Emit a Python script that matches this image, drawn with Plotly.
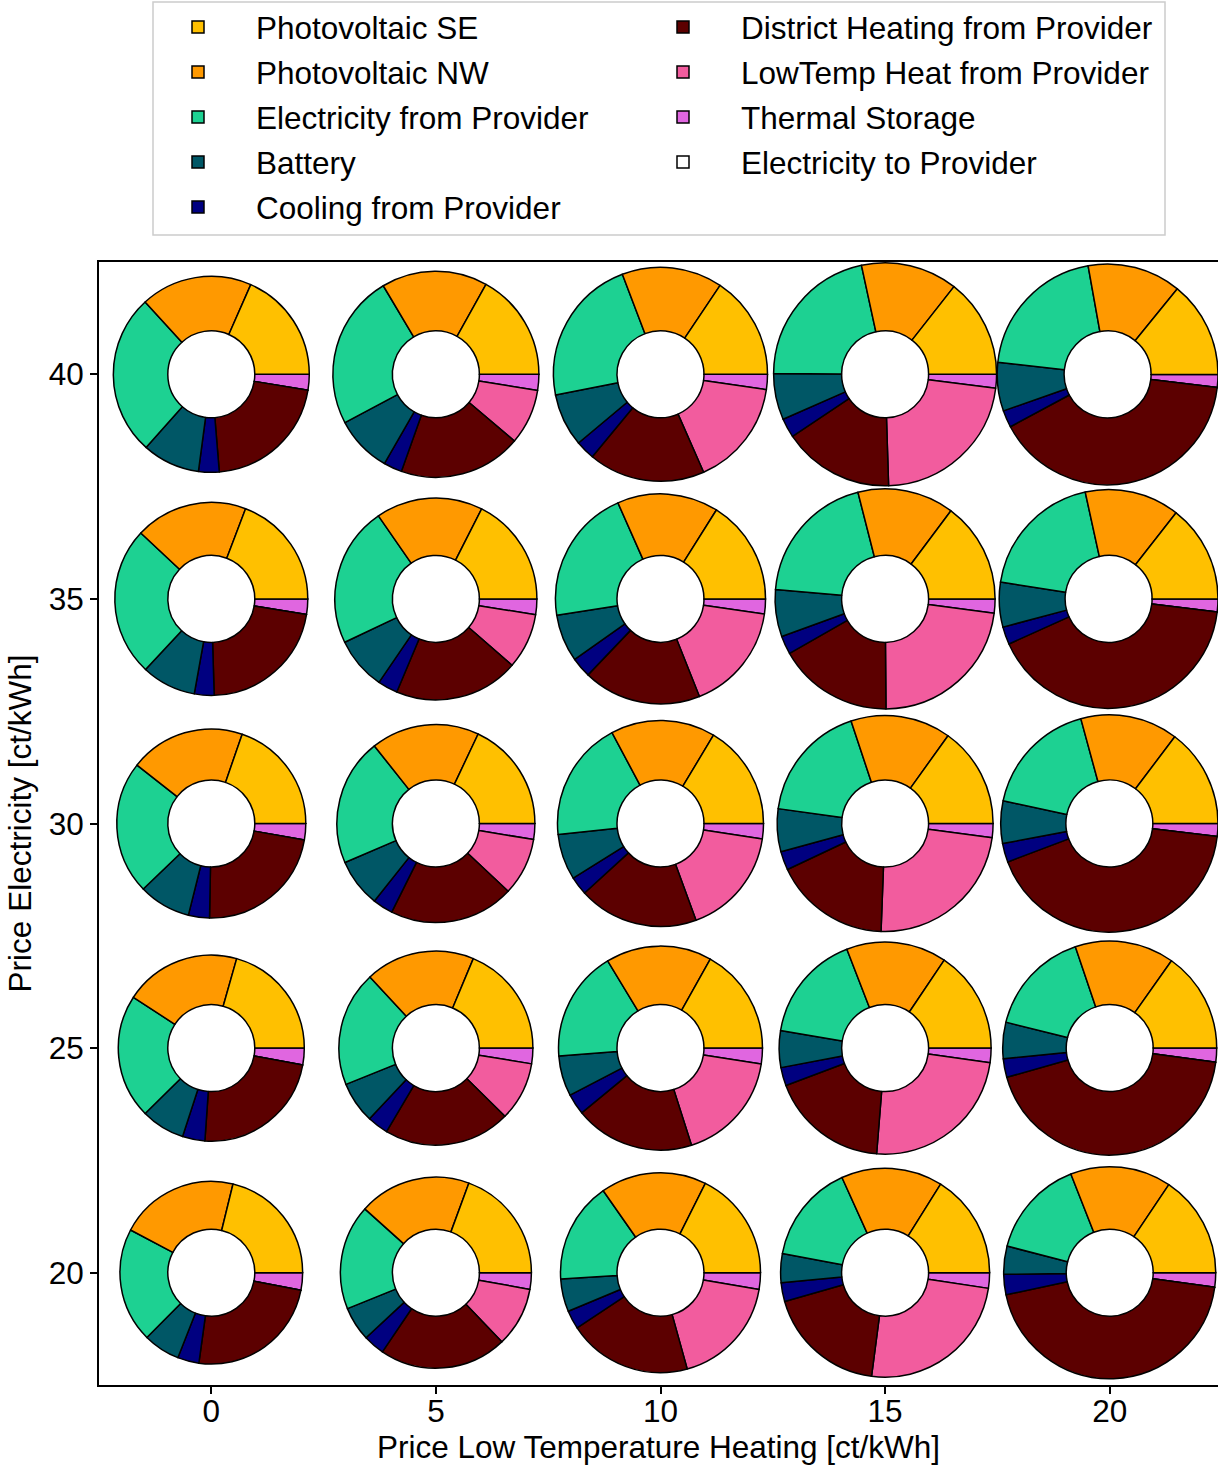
import math
import plotly.graph_objects as go

# ---------------- data ----------------
price_lt = [0, 5, 10, 15, 20]          # x: price low temperature heating [ct/kWh]
price_el = [40, 35, 30, 25, 20]        # y: price electricity [ct/kWh] (rows, top to bottom)

categories = [
    "Photovoltaic SE", "Photovoltaic NW", "Electricity from Provider", "Battery",
    "Cooling from Provider", "District Heating from Provider",
    "LowTemp Heat from Provider", "Thermal Storage", "Electricity to Provider",
]
colors = ["#FFC000", "#FF9900", "#1DD192", "#005766", "#000080",
          "#5C0000", "#F25C9E", "#E066E0", "#FFFFFF"]

# shares of each supply in % (rows = price_el, columns = price_lt)
pv_se = [[18.4, 16.9, 15.6, 14.4, 14.1],
         [19.2, 17.5, 16.1, 14.8, 14.4],
         [19.7, 18.0, 16.4, 15.1, 14.7],
         [20.6, 18.7, 16.9, 15.6, 15.2],
         [21.2, 19.4, 17.6, 16.1, 15.6]]
pv_nw = [[18.4, 16.6, 15.2, 14.0, 13.7],
         [18.8, 17.1, 15.6, 14.2, 14.0],
         [19.7, 17.7, 16.4, 15.0, 14.5],
         [20.2, 18.2, 16.8, 15.3, 15.0],
         [21.1, 19.0, 17.1, 15.7, 15.4]]
el_from = [[26.6, 24.2, 22.3, 21.5, 20.4],
           [25.0, 22.4, 20.9, 19.7, 19.1],
           [22.8, 20.8, 18.9, 17.7, 17.4],
           [21.6, 19.2, 17.6, 16.5, 15.9],
           [20.3, 17.8, 16.3, 15.3, 15.0]]
battery = [[9.5, 8.9, 8.0, 6.7, 7.1],
           [9.1, 8.4, 7.3, 6.9, 6.6],
           [8.9, 7.9, 7.2, 6.4, 6.3],
           [7.6, 6.9, 6.4, 5.6, 5.5],
           [6.5, 5.8, 5.3, 4.5, 4.3]]
cooling = [[3.4, 2.9, 2.9, 2.8, 2.5],
           [3.3, 3.2, 3.1, 2.7, 2.6],
           [3.6, 3.3, 2.9, 2.8, 2.8],
           [3.9, 3.5, 3.3, 2.8, 2.8],
           [3.8, 3.6, 3.0, 2.9, 3.1]]
dh = [[21.1, 19.2, 17.6, 16.1, 40.2],
      [21.9, 19.9, 18.2, 16.9, 41.3],
      [22.5, 20.4, 18.8, 17.4, 42.3],
      [23.2, 21.1, 19.0, 18.0, 43.5],
      [24.1, 21.6, 20.0, 18.5, 44.5]]
lowtemp = [[0, 8.7, 16.1, 22.5, 0],
           [0, 8.9, 16.7, 22.8, 0],
           [0, 9.4, 17.0, 23.5, 0],
           [0, 9.8, 17.6, 24.1, 0],
           [0, 10.1, 18.0, 24.7, 0]]
thermal = [[2.6, 2.5, 2.3, 2.0, 1.9],
           [2.6, 2.5, 2.3, 2.1, 1.9],
           [2.8, 2.6, 2.4, 2.1, 1.9],
           [2.9, 2.6, 2.5, 2.2, 2.1],
           [3.1, 2.8, 2.7, 2.4, 2.2]]
el_to = [[0, 0, 0, 0, 0] for _ in range(5)]

# total supplied energy of each configuration (relative units) -> pie area
total_energy = [[96.0, 106.1, 114.5, 124.3, 126.6],
                [93.1, 102.0, 110.3, 121.0, 122.1],
                [89.3, 98.0, 106.1, 116.6, 118.8],
                [86.5, 94.1, 104.0, 112.4, 114.5],
                [83.4, 91.2, 100.0, 109.2, 112.4]]

series = [pv_se, pv_nw, el_from, battery, cooling, dh, lowtemp, thermal, el_to]

# ---------------- layout constants ----------------
W, H = 1218, 1465
ML, MR, MT, MB = 99, 0, 262, 80
PW, PH = W - ML - MR, H - MT - MB
Y_RANGE = [17.5, 42.5]
PX_PER_UNIT = PH / (Y_RANGE[1] - Y_RANGE[0])
X_RANGE = [-2.5, -2.5 + PW / PX_PER_UNIT]
R_AT_100 = 100 / PX_PER_UNIT      # outer radius (data units) for total_energy = 100
HOLE_R = 43.5 / PX_PER_UNIT       # radius of the white hole (data units)
FONT = "Liberation Sans, Arial, sans-serif"
FS = 31.5


def px_x(px):   # figure x pixel -> paper fraction
    return (px - ML) / PW


def px_y(py):   # figure y pixel -> paper fraction
    return (H - MB - py) / PH


fig = go.Figure()

# matplotlib-like wedge order: start at 3 o'clock, counterclockwise
# (drawn clockwise from 3 o'clock with the category order reversed)
rev = list(range(len(categories)))[::-1]
for i, yv in enumerate(price_el):
    for j, xv in enumerate(price_lt):
        r = R_AT_100 * math.sqrt(total_energy[i][j] / 100.0)
        fx = (xv - X_RANGE[0]) / (X_RANGE[1] - X_RANGE[0])
        fy = (yv - Y_RANGE[0]) / (Y_RANGE[1] - Y_RANGE[0])
        hx = r / (X_RANGE[1] - X_RANGE[0])
        hy = r / (Y_RANGE[1] - Y_RANGE[0])
        dx = [max(0.0, fx - hx), min(1.0, fx + hx)]
        dy = [max(0.0, fy - hy), min(1.0, fy + hy)]
        r_eff = min((dx[1] - dx[0]) * (X_RANGE[1] - X_RANGE[0]),
                    (dy[1] - dy[0]) * (Y_RANGE[1] - Y_RANGE[0])) / 2
        fig.add_trace(go.Pie(
            labels=[categories[k] for k in rev],
            values=[series[k][i][j] for k in rev],
            marker=dict(colors=[colors[k] for k in rev],
                        line=dict(color="black", width=1.5)),
            domain=dict(x=dx, y=dy),
            hole=HOLE_R / r_eff,
            sort=False,
            direction="clockwise",
            rotation=90,
            textinfo="none",
            hoverinfo="skip",
            showlegend=False,
            name=f"{xv} / {yv}",
        ))

# legend entries (two columns)
for k, (cat, col) in enumerate(zip(categories, colors)):
    fig.add_trace(go.Bar(
        x=[None], y=[None], name=cat,
        marker=dict(color=col, line=dict(color="black", width=1.5)),
        legend="legend" if k < 5 else "legend2",
        legendgroup=cat, showlegend=True, hoverinfo="skip",
    ))

item_h = FS * 1.3 + 3
legend_common = dict(
    yanchor="top", xanchor="left", y=px_y(0),
    itemwidth=106, tracegroupgap=max(0, 45 - item_h), traceorder="grouped",
    font=dict(family=FONT, size=FS, color="black"),
    bgcolor="rgba(0,0,0,0)", borderwidth=0,
    itemclick=False, itemdoubleclick=False,
)

fig.update_layout(
    width=W, height=H,
    margin=dict(l=ML, r=MR, t=MT, b=MB),
    paper_bgcolor="white", plot_bgcolor="white",
    font=dict(family=FONT, size=FS, color="black"),
    hovermode=False,
    legend=dict(x=px_x(256 - 116), **legend_common),
    legend2=dict(x=px_x(741 - 116), **legend_common),
    shapes=[dict(type="rect", xref="paper", yref="paper",
                 x0=px_x(153), x1=px_x(1165), y0=px_y(235), y1=px_y(2),
                 line=dict(color="#CCCCCC", width=1.5), fillcolor="rgba(0,0,0,0)",
                 layer="above")],
    xaxis=dict(range=X_RANGE, tickvals=price_lt, ticks="outside", ticklen=7,
               tickwidth=1.6, tickcolor="black", showline=True, linewidth=1.6,
               linecolor="black", mirror=True, showgrid=False, zeroline=False,
               tickfont=dict(size=FS), ticklabelstandoff=-10,
               title=dict(text="Price Low Temperature Heating [ct/kWh]",
                          font=dict(size=FS), standoff=8)),
    yaxis=dict(range=Y_RANGE, tickvals=price_el, ticks="outside", ticklen=7,
               tickwidth=1.6, tickcolor="black", showline=True, linewidth=1.6,
               linecolor="black", mirror=False, showgrid=False, zeroline=False,
               tickfont=dict(size=FS),
               title=dict(text="Price Electricity [ct/kWh]",
                          font=dict(size=FS), standoff=8)),
    barmode="overlay",
)

fig.write_html("out.html",
               config={"displayModeBar": False},
               post_script="document.body.style.margin='0';document.body.style.overflow='hidden';")
